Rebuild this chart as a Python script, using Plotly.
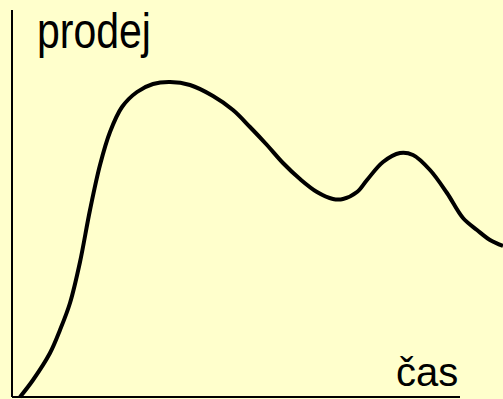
import plotly.graph_objects as go

# Curve (time vs. sales, arbitrary units)
time = [8, 21, 38, 48, 58, 68, 78, 88, 98, 110, 125, 141, 158, 178, 201, 221,
        238, 255, 271, 288, 305, 321, 331, 345, 355, 371, 388, 401, 418, 435,
        451, 465, 478, 491]
sales = [0, 17, 44, 67, 94, 135, 187, 232, 265, 290, 305, 313, 315, 312, 301, 287,
         270, 252, 234, 218, 205, 198, 198, 205, 217, 235, 244, 242, 227, 204,
         179, 167, 157, 151]

axis_x_end = 448
axis_y_end = 387

fig = go.Figure()
fig.add_trace(go.Scatter(x=time, y=sales, mode="lines",
                         line=dict(color="black", width=4, shape="spline", smoothing=1.0),
                         hoverinfo="skip"))

fig.add_shape(type="line", x0=0, x1=axis_x_end, y0=0, y1=0, xref="x", yref="y",
              line=dict(color="black", width=2))
fig.add_shape(type="line", x0=0, x1=0, y0=0, y1=axis_y_end, xref="x", yref="y",
              line=dict(color="black", width=2))

fig.add_annotation(x=23, y=366, xref="x", yref="y", text="prodej", showarrow=False,
                   xanchor="left", yanchor="middle",
                   font=dict(family="Liberation Sans, Arial", size=50, color="black"))
fig.add_annotation(x=382, y=25, xref="x", yref="y", text="čas", showarrow=False,
                   xanchor="left", yanchor="middle",
                   font=dict(family="Liberation Sans, Arial", size=40, color="black"))

fig.update_layout(
    width=503, height=399,
    margin=dict(l=0, r=0, t=0, b=0),
    paper_bgcolor="#FFFFCC", plot_bgcolor="#FFFFCC",
    showlegend=False,
    xaxis=dict(range=[-12, 491], visible=False, fixedrange=True),
    yaxis=dict(range=[-2, 397], visible=False, fixedrange=True),
)

post = """
document.body.style.margin='0';
document.body.style.padding='0';
var el = document.querySelector('.annotation[data-index="0"] .annotation-text');
if (el) {
  el.style.transformBox = 'fill-box';
  el.style.transformOrigin = 'left center';
  el.style.transform = 'scaleX(0.82)';
}
"""
fig.write_html("out.html", config={"displayModeBar": False}, post_script=post)
